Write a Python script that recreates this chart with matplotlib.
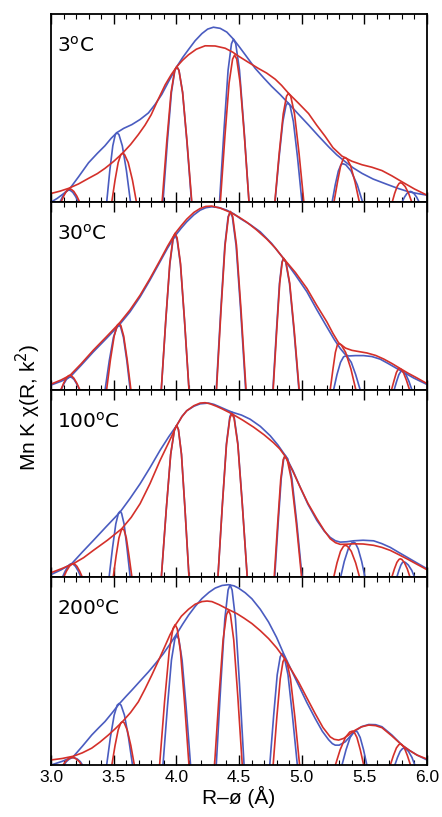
import matplotlib
matplotlib.use("Agg")
import matplotlib.pyplot as plt
from matplotlib.ticker import MultipleLocator

# temperatures (one panel each, top to bottom)
temps = ["3", "30", "100", "200"]

# |chi(R)| envelopes, (R, height as fraction of panel)
blue_env_3 = [(3.0, 0.0), (3.05, 0.02), (3.10, 0.045), (3.15, 0.072), (3.22, 0.135), (3.30, 0.21), (3.37, 0.26),
              (3.43, 0.30), (3.48, 0.34), (3.525, 0.37), (3.58, 0.393), (3.645, 0.413), (3.71, 0.44), (3.777, 0.475),
              (3.83, 0.52), (3.884, 0.574), (3.94, 0.645), (4.004, 0.722), (4.05, 0.77), (4.097, 0.813), (4.15, 0.86),
              (4.204, 0.898), (4.25, 0.922), (4.296, 0.932), (4.35, 0.926), (4.403, 0.906), (4.456, 0.868),
              (4.50, 0.83), (4.55, 0.785), (4.629, 0.713), (4.70, 0.66), (4.76, 0.617), (4.83, 0.572), (4.895, 0.526),
              (4.975, 0.468), (5.055, 0.411), (5.135, 0.352), (5.215, 0.295), (5.28, 0.252), (5.348, 0.215),
              (5.41, 0.183), (5.482, 0.153), (5.57, 0.123), (5.668, 0.098), (5.76, 0.075), (5.854, 0.055),
              (5.93, 0.045), (6.0, 0.037)]
red_env_3 = [(3.0, 0.046), (3.07, 0.058), (3.139, 0.073), (3.22, 0.097), (3.298, 0.126), (3.37, 0.152), (3.431, 0.18),
             (3.50, 0.217), (3.57, 0.26), (3.635, 0.307), (3.697, 0.36), (3.75, 0.41), (3.799, 0.465), (3.85, 0.54),
             (3.911, 0.625), (3.96, 0.68), (4.004, 0.722), (4.05, 0.756), (4.097, 0.785), (4.16, 0.815), (4.23, 0.833),
             (4.31, 0.832), (4.39, 0.82), (4.45, 0.799), (4.496, 0.778), (4.575, 0.745), (4.656, 0.712), (4.72, 0.688),
             (4.789, 0.655), (4.84, 0.622), (4.895, 0.58), (4.975, 0.527), (5.055, 0.472), (5.12, 0.41), (5.188, 0.35),
             (5.25, 0.29), (5.322, 0.245), (5.40, 0.218), (5.482, 0.199), (5.56, 0.186), (5.641, 0.168), (5.72, 0.14),
             (5.801, 0.108), (5.90, 0.07), (6.0, 0.037)]

blue_env_30 = [(3.0, 0.025), (3.08, 0.045), (3.152, 0.068), (3.24, 0.13), (3.338, 0.202), (3.44, 0.272), (3.543, 0.344),
               (3.63, 0.415), (3.711, 0.495), (3.79, 0.585), (3.87, 0.682), (3.93, 0.755), (3.99, 0.82), (4.04, 0.862),
               (4.083, 0.895), (4.14, 0.932), (4.19, 0.957), (4.235, 0.97), (4.283, 0.975), (4.34, 0.971), (4.403, 0.957),
               (4.46, 0.937), (4.509, 0.913), (4.59, 0.88), (4.669, 0.842), (4.76, 0.78), (4.855, 0.70), (4.95, 0.612),
               (5.042, 0.522), (5.12, 0.428), (5.201, 0.335), (5.26, 0.268), (5.308, 0.22), (5.345, 0.19), (5.374, 0.18),
               (5.43, 0.182), (5.494, 0.182), (5.56, 0.177), (5.627, 0.163), (5.69, 0.14), (5.76, 0.113), (5.83, 0.087),
               (5.893, 0.063), (6.0, 0.028)]
red_env_30 = [(3.0, 0.03), (3.08, 0.052), (3.152, 0.077), (3.24, 0.138), (3.338, 0.211), (3.44, 0.281), (3.543, 0.353),
              (3.63, 0.425), (3.711, 0.504), (3.79, 0.593), (3.87, 0.69), (3.93, 0.765), (3.99, 0.833), (4.04, 0.875),
              (4.083, 0.909), (4.14, 0.945), (4.19, 0.966), (4.235, 0.977), (4.283, 0.979), (4.35, 0.968), (4.429, 0.946),
              (4.50, 0.92), (4.562, 0.893), (4.64, 0.852), (4.722, 0.803), (4.79, 0.755), (4.855, 0.70), (4.95, 0.625),
              (5.042, 0.54), (5.12, 0.45), (5.201, 0.362), (5.25, 0.30), (5.295, 0.25), (5.35, 0.222), (5.401, 0.21),
              (5.46, 0.203), (5.521, 0.196), (5.59, 0.183), (5.654, 0.164), (5.72, 0.14), (5.787, 0.113), (5.85, 0.088),
              (5.92, 0.063), (6.0, 0.033)]

blue_env_100 = [(3.0, 0.015), (3.08, 0.04), (3.165, 0.073), (3.25, 0.135), (3.338, 0.197), (3.44, 0.27), (3.551, 0.348),
                (3.63, 0.42), (3.711, 0.499), (3.79, 0.585), (3.87, 0.677), (3.94, 0.75), (4.003, 0.81), (4.045, 0.858),
                (4.083, 0.888), (4.14, 0.912), (4.19, 0.925), (4.256, 0.929), (4.30, 0.922), (4.349, 0.908),
                (4.40, 0.893), (4.443, 0.881), (4.52, 0.865), (4.589, 0.843), (4.67, 0.805), (4.749, 0.755),
                (4.81, 0.706), (4.869, 0.65), (4.93, 0.57), (4.988, 0.481), (5.05, 0.39), (5.121, 0.304), (5.18, 0.247),
                (5.228, 0.213), (5.27, 0.195), (5.308, 0.188), (5.36, 0.19), (5.414, 0.195), (5.49, 0.198),
                (5.574, 0.195), (5.64, 0.18), (5.707, 0.16), (5.77, 0.135), (5.84, 0.108), (5.92, 0.077), (6.0, 0.046)]
red_env_100 = [(3.0, 0.025), (3.09, 0.048), (3.178, 0.073), (3.26, 0.105), (3.338, 0.144), (3.45, 0.198), (3.564, 0.259),
               (3.64, 0.32), (3.711, 0.393), (3.79, 0.5), (3.87, 0.623), (3.94, 0.72), (4.003, 0.81), (4.045, 0.857),
               (4.083, 0.888), (4.14, 0.915), (4.19, 0.929), (4.23, 0.931), (4.27, 0.925), (4.32, 0.912), (4.363, 0.899),
               (4.443, 0.872), (4.53, 0.838), (4.616, 0.801), (4.70, 0.76), (4.775, 0.718), (4.825, 0.685),
               (4.869, 0.645), (4.93, 0.565), (4.988, 0.481), (5.05, 0.395), (5.121, 0.313), (5.18, 0.25), (5.228, 0.206),
               (5.27, 0.185), (5.308, 0.176), (5.36, 0.177), (5.414, 0.179), (5.49, 0.178), (5.574, 0.171), (5.64, 0.16),
               (5.707, 0.144), (5.77, 0.123), (5.84, 0.099), (5.92, 0.07), (6.0, 0.041)]

blue_env_200 = [(3.0, 0.0), (3.09, 0.02), (3.178, 0.045), (3.25, 0.1), (3.325, 0.16), (3.38, 0.198), (3.431, 0.232),
                (3.49, 0.28), (3.543, 0.325), (3.60, 0.367), (3.645, 0.399), (3.71, 0.447), (3.777, 0.496), (3.84, 0.546),
                (3.897, 0.594), (3.95, 0.645), (4.004, 0.70), (4.05, 0.75), (4.097, 0.798), (4.15, 0.845), (4.204, 0.887),
                (4.26, 0.92), (4.31, 0.943), (4.365, 0.957), (4.416, 0.961), (4.46, 0.955), (4.496, 0.943), (4.55, 0.918),
                (4.603, 0.886), (4.67, 0.83), (4.736, 0.762), (4.80, 0.68), (4.856, 0.594), (4.915, 0.51), (4.975, 0.426),
                (5.04, 0.335), (5.108, 0.248), (5.165, 0.18), (5.215, 0.135), (5.245, 0.114), (5.268, 0.106),
                (5.30, 0.106), (5.348, 0.124), (5.39, 0.155), (5.43, 0.183), (5.48, 0.205), (5.535, 0.216),
                (5.59, 0.215), (5.641, 0.204), (5.72, 0.16), (5.801, 0.106), (5.86, 0.078), (5.921, 0.053), (6.0, 0.027)]
red_env_200 = [(3.0, 0.027), (3.09, 0.035), (3.178, 0.047), (3.25, 0.065), (3.325, 0.09), (3.39, 0.122), (3.458, 0.16),
               (3.515, 0.195), (3.57, 0.231), (3.635, 0.28), (3.697, 0.337), (3.75, 0.405), (3.804, 0.479), (3.86, 0.56),
               (3.911, 0.636), (3.95, 0.695), (3.991, 0.745), (4.04, 0.793), (4.097, 0.83), (4.15, 0.857), (4.204, 0.871),
               (4.245, 0.874), (4.284, 0.871), (4.34, 0.855), (4.403, 0.833), (4.483, 0.807), (4.54, 0.783),
               (4.603, 0.754), (4.67, 0.716), (4.736, 0.674), (4.80, 0.625), (4.864, 0.567), (4.92, 0.505),
               (4.975, 0.443), (5.04, 0.36), (5.108, 0.274), (5.17, 0.2), (5.228, 0.15), (5.26, 0.137), (5.295, 0.133),
               (5.335, 0.142), (5.375, 0.16), (5.415, 0.181), (5.475, 0.203), (5.535, 0.213), (5.59, 0.21),
               (5.641, 0.199), (5.72, 0.155), (5.801, 0.106), (5.86, 0.078), (5.921, 0.053), (6.0, 0.032)]

# Im[chi(R)] arches (the dips below the panel floor are clipped)
blue_im_3 = [(3.05, -0.03), (3.092, 0.029), (3.114, 0.052), (3.133, 0.062), (3.144, 0.064), (3.155, 0.062), (3.174, 0.052), (3.197, 0.029), (3.24, -0.03),
             (3.44, -0.03), (3.469, 0.167), (3.493, 0.300), (3.513, 0.36), (3.525, 0.370), (3.542, 0.36), (3.569, 0.300), (3.602, 0.167), (3.64, -0.03),
             (3.89, -0.03), (3.929, 0.325), (3.961, 0.585), (3.988, 0.702), (4.004, 0.722), (4.021, 0.702), (4.050, 0.585), (4.084, 0.325), (4.125, -0.03),
             (4.342, -0.03), (4.381, 0.391), (4.413, 0.703), (4.44, 0.844), (4.456, 0.868), (4.474, 0.844), (4.504, 0.703), (4.540, 0.391), (4.583, -0.03),
             (4.783, -0.03), (4.82, 0.239), (4.85, 0.429), (4.875, 0.515), (4.89, 0.53), (4.907, 0.515), (4.934, 0.429), (4.967, 0.239), (5.007, -0.03),
             (5.235, -0.03), (5.268, 0.092), (5.293, 0.166), (5.314, 0.199), (5.327, 0.205), (5.352, 0.199), (5.394, 0.166), (5.444, 0.092), (5.50, -0.03),
             (5.78, -0.03), (5.82, 0.026), (5.84, 0.046), (5.857, 0.055), (5.867, 0.057), (5.878, 0.055), (5.896, 0.046), (5.918, 0.026), (5.96, -0.03)]
red_im_3 = [(3.06, -0.03), (3.101, 0.032), (3.122, 0.057), (3.14, 0.068), (3.15, 0.07), (3.162, 0.068), (3.182, 0.057), (3.206, 0.032), (3.25, -0.03),
            (3.478, -0.03), (3.511, 0.117), (3.536, 0.211), (3.557, 0.253), (3.570, 0.26), (3.587, 0.253), (3.616, 0.211), (3.650, 0.117), (3.69, -0.03),
            (3.883, -0.03), (3.924, 0.325), (3.958, 0.585), (3.987, 0.702), (4.004, 0.722), (4.021, 0.702), (4.05, 0.585), (4.085, 0.325), (4.127, -0.03),
            (4.348, -0.03), (4.388, 0.353), (4.421, 0.635), (4.449, 0.762), (4.465, 0.784), (4.482, 0.762), (4.509, 0.635), (4.543, 0.353), (4.583, -0.03),
            (4.782, -0.03), (4.821, 0.261), (4.853, 0.470), (4.879, 0.564), (4.895, 0.58), (4.913, 0.564), (4.943, 0.470), (4.979, 0.261), (5.022, -0.03),
            (5.25, -0.03), (5.286, 0.107), (5.311, 0.193), (5.332, 0.231), (5.345, 0.238), (5.362, 0.231), (5.391, 0.193), (5.426, 0.107), (5.47, -0.03),
            (5.71, -0.03), (5.742, 0.046), (5.762, 0.083), (5.778, 0.10), (5.788, 0.103), (5.802, 0.10), (5.826, 0.083), (5.854, 0.046), (5.895, -0.03)]

blue_im_30 = [(3.06, -0.03), (3.102, 0.031), (3.123, 0.055), (3.141, 0.066), (3.152, 0.068), (3.164, 0.066), (3.184, 0.055), (3.205, 0.031), (3.25, -0.03),
              (3.425, -0.03), (3.465, 0.155), (3.498, 0.279), (3.526, 0.334), (3.543, 0.344), (3.556, 0.334), (3.578, 0.279), (3.605, 0.155), (3.637, -0.03),
              (3.877, -0.03), (3.916, 0.370), (3.948, 0.667), (3.974, 0.80), (3.99, 0.823), (4.006, 0.80), (4.033, 0.667), (4.065, 0.370), (4.104, -0.03),
              (4.316, -0.03), (4.355, 0.427), (4.387, 0.768), (4.413, 0.921), (4.429, 0.948), (4.447, 0.921), (4.477, 0.768), (4.513, 0.427), (4.556, -0.03),
              (4.768, -0.03), (4.799, 0.315), (4.823, 0.567), (4.843, 0.68), (4.855, 0.70), (4.873, 0.68), (4.903, 0.567), (4.939, 0.315), (4.982, -0.03),
              (5.245, -0.03), (5.282, 0.081), (5.310, 0.146), (5.334, 0.175), (5.348, 0.18), (5.366, 0.175), (5.396, 0.146), (5.431, 0.081), (5.48, -0.03),
              (5.725, -0.03), (5.758, 0.045), (5.776, 0.081), (5.791, 0.097), (5.80, 0.10), (5.812, 0.097), (5.832, 0.081), (5.856, 0.045), (5.895, -0.03)]
red_im_30 = [(3.06, -0.03), (3.101, 0.035), (3.122, 0.062), (3.14, 0.075), (3.15, 0.077), (3.162, 0.075), (3.182, 0.062), (3.206, 0.035), (3.25, -0.03),
             (3.438, -0.03), (3.474, 0.159), (3.504, 0.286), (3.528, 0.343), (3.543, 0.353), (3.557, 0.343), (3.580, 0.286), (3.608, 0.159), (3.643, -0.03),
             (3.877, -0.03), (3.916, 0.375), (3.948, 0.675), (3.974, 0.81), (3.99, 0.833), (4.006, 0.81), (4.033, 0.675), (4.065, 0.375), (4.104, -0.03),
             (4.318, -0.03), (4.357, 0.428), (4.389, 0.770), (4.416, 0.923), (4.432, 0.95), (4.45, 0.923), (4.480, 0.770), (4.516, 0.428), (4.559, -0.03),
             (4.770, -0.03), (4.801, 0.315), (4.825, 0.567), (4.845, 0.68), (4.857, 0.70), (4.875, 0.68), (4.905, 0.567), (4.941, 0.315), (4.984, -0.03),
             (5.222, -0.03), (5.25, 0.111), (5.269, 0.199), (5.285, 0.239), (5.295, 0.246), (5.316, 0.239), (5.351, 0.199), (5.393, 0.111), (5.443, -0.03),
             (5.705, -0.03), (5.738, 0.051), (5.756, 0.092), (5.771, 0.11), (5.78, 0.113), (5.792, 0.11), (5.812, 0.092), (5.836, 0.051), (5.875, -0.03)]

blue_im_100 = [(3.07, -0.03), (3.113, 0.033), (3.135, 0.059), (3.154, 0.071), (3.165, 0.073), (3.176, 0.071), (3.195, 0.059), (3.218, 0.033), (3.26, -0.03),
               (3.458, -0.03), (3.491, 0.158), (3.517, 0.285), (3.538, 0.342), (3.551, 0.352), (3.563, 0.342), (3.583, 0.285), (3.606, 0.158), (3.637, -0.03),
               (3.877, -0.03), (3.920, 0.365), (3.955, 0.656), (3.985, 0.787), (4.003, 0.81), (4.017, 0.787), (4.041, 0.656), (4.069, 0.365), (4.104, -0.03),
               (4.329, -0.03), (4.368, 0.396), (4.400, 0.714), (4.427, 0.856), (4.443, 0.881), (4.461, 0.856), (4.491, 0.714), (4.526, 0.396), (4.569, -0.03),
               (4.782, -0.03), (4.813, 0.293), (4.837, 0.527), (4.857, 0.632), (4.869, 0.65), (4.889, 0.632), (4.922, 0.527), (4.961, 0.293), (5.008, -0.03),
               (5.30, -0.03), (5.34, 0.085), (5.372, 0.152), (5.398, 0.183), (5.414, 0.188), (5.428, 0.183), (5.451, 0.152), (5.479, 0.085), (5.515, -0.03),
               (5.745, -0.03), (5.776, 0.037), (5.792, 0.066), (5.805, 0.08), (5.813, 0.082), (5.827, 0.08), (5.851, 0.066), (5.879, 0.037), (5.92, -0.03)]
red_im_100 = [(3.08, -0.03), (3.123, 0.033), (3.147, 0.059), (3.166, 0.071), (3.178, 0.073), (3.189, 0.071), (3.207, 0.059), (3.229, 0.033), (3.27, -0.03),
              (3.49, -0.03), (3.520, 0.117), (3.542, 0.210), (3.561, 0.252), (3.572, 0.259), (3.583, 0.252), (3.601, 0.210), (3.622, 0.117), (3.652, -0.03),
              (3.877, -0.03), (3.920, 0.365), (3.955, 0.656), (3.985, 0.787), (4.003, 0.81), (4.017, 0.787), (4.041, 0.656), (4.069, 0.365), (4.104, -0.03),
              (4.329, -0.03), (4.368, 0.392), (4.400, 0.706), (4.427, 0.848), (4.443, 0.872), (4.461, 0.848), (4.491, 0.706), (4.526, 0.392), (4.569, -0.03),
              (4.778, -0.03), (4.809, 0.290), (4.833, 0.522), (4.853, 0.627), (4.865, 0.645), (4.885, 0.627), (4.918, 0.522), (4.957, 0.290), (5.004, -0.03),
              (5.245, -0.03), (5.282, 0.077), (5.310, 0.139), (5.334, 0.166), (5.348, 0.171), (5.366, 0.166), (5.396, 0.139), (5.431, 0.077), (5.475, -0.03),
              (5.705, -0.03), (5.74, 0.045), (5.76, 0.080), (5.777, 0.096), (5.787, 0.099), (5.799, 0.096), (5.819, 0.080), (5.843, 0.045), (5.88, -0.03)]

blue_im_200 = [(3.075, -0.03), (3.122, 0.018), (3.146, 0.032), (3.166, 0.038), (3.178, 0.039), (3.19, 0.038), (3.21, 0.032), (3.234, 0.018), (3.28, -0.03),
               (3.438, -0.03), (3.474, 0.148), (3.504, 0.266), (3.528, 0.319), (3.543, 0.328), (3.559, 0.319), (3.586, 0.266), (3.618, 0.148), (3.657, -0.03),
               (3.89, -0.03), (3.929, 0.311), (3.961, 0.559), (3.988, 0.671), (4.004, 0.69), (4.02, 0.671), (4.046, 0.559), (4.078, 0.311), (4.117, -0.03),
               (4.316, -0.03), (4.355, 0.432), (4.387, 0.778), (4.413, 0.933), (4.429, 0.96), (4.445, 0.933), (4.472, 0.778), (4.504, 0.432), (4.543, -0.03),
               (4.742, -0.03), (4.777, 0.267), (4.805, 0.481), (4.829, 0.577), (4.843, 0.594), (4.861, 0.577), (4.891, 0.481), (4.926, 0.267), (4.97, -0.03),
               (5.31, -0.03), (5.354, 0.081), (5.387, 0.147), (5.415, 0.176), (5.431, 0.181), (5.445, 0.176), (5.467, 0.147), (5.494, 0.081), (5.53, -0.03),
               (5.728, -0.03), (5.765, 0.041), (5.786, 0.073), (5.804, 0.087), (5.815, 0.09), (5.829, 0.087), (5.852, 0.073), (5.88, 0.041), (5.92, -0.03)]
red_im_200 = [(3.067, -0.03), (3.114, 0.018), (3.138, 0.032), (3.158, 0.039), (3.17, 0.04), (3.182, 0.039), (3.202, 0.032), (3.226, 0.018), (3.272, -0.03),
              (3.478, -0.03), (3.511, 0.104), (3.536, 0.187), (3.557, 0.225), (3.570, 0.231), (3.584, 0.225), (3.608, 0.187), (3.637, 0.104), (3.673, -0.03),
              (3.863, -0.03), (3.906, 0.337), (3.943, 0.606), (3.973, 0.727), (3.991, 0.748), (4.007, 0.727), (4.033, 0.606), (4.065, 0.337), (4.104, -0.03),
              (4.302, -0.03), (4.341, 0.371), (4.373, 0.667), (4.40, 0.801), (4.416, 0.824), (4.432, 0.801), (4.458, 0.667), (4.490, 0.371), (4.529, -0.03),
              (4.769, -0.03), (4.802, 0.255), (4.829, 0.459), (4.851, 0.551), (4.864, 0.567), (4.882, 0.551), (4.911, 0.459), (4.946, 0.255), (4.988, -0.03),
              (5.255, -0.03), (5.307, 0.081), (5.349, 0.147), (5.384, 0.176), (5.405, 0.181), (5.419, 0.176), (5.441, 0.147), (5.468, 0.081), (5.505, -0.03),
              (5.693, -0.03), (5.732, 0.050), (5.756, 0.091), (5.776, 0.109), (5.788, 0.112), (5.80, 0.109), (5.82, 0.091), (5.844, 0.050), (5.883, -0.03)]

blue_env = [blue_env_3, blue_env_30, blue_env_100, blue_env_200]
red_env = [red_env_3, red_env_30, red_env_100, red_env_200]
blue_im = [blue_im_3, blue_im_30, blue_im_100, blue_im_200]
red_im = [red_im_3, red_im_30, red_im_100, red_im_200]

BLUE = "#4a5cc0"
RED = "#d4302a"
sans = ["Liberation Sans", "DejaVu Sans"]

fig, axes = plt.subplots(4, 1, figsize=(4.42, 8.17), dpi=100, sharex=True)
fig.subplots_adjust(left=0.1154, right=0.966, top=0.9823, bottom=0.0636, hspace=0)

for i, ax in enumerate(axes):
    for pts, c in [(blue_env[i], BLUE), (blue_im[i], BLUE), (red_env[i], RED), (red_im[i], RED)]:
        x, y = zip(*pts)
        ax.plot(x, y, color=c, lw=1.2, solid_joinstyle="round")
    ax.set_xlim(3.0, 6.0)
    ax.set_ylim(0, 1)
    ax.set_yticks([])
    ax.xaxis.set_major_locator(MultipleLocator(0.5))
    ax.xaxis.set_minor_locator(MultipleLocator(0.1))
    ax.tick_params(axis="x", which="major", direction="in", top=True, length=7, width=1.0)
    ax.tick_params(axis="x", which="minor", direction="in", top=True, length=3.5, width=0.8)
    for s in ax.spines.values():
        s.set_linewidth(1.3)
    ax.text(0.015, 0.885, temps[i] + "$^{\\rm o}$C", transform=ax.transAxes,
            ha="left", va="top", fontsize=14.5, family="DejaVu Sans")

axes[-1].set_xticks([3.0, 3.5, 4.0, 4.5, 5.0, 5.5, 6.0])
axes[-1].set_xticklabels(["3.0", "3.5", "4.0", "4.5", "5.0", "5.5", "6.0"], family=sans, fontsize=12.5)
axes[-1].set_xlabel("R\u2013\u00f8 (\u00c5)", family=sans, fontsize=15, labelpad=1)

fig.text(0.065, 1 - 407 / 817, "Mn K \u03c7(R, k$^2$)", rotation=90, ha="center", va="center",
         family=sans, fontsize=15)

fig.savefig("out.png", dpi=100)
